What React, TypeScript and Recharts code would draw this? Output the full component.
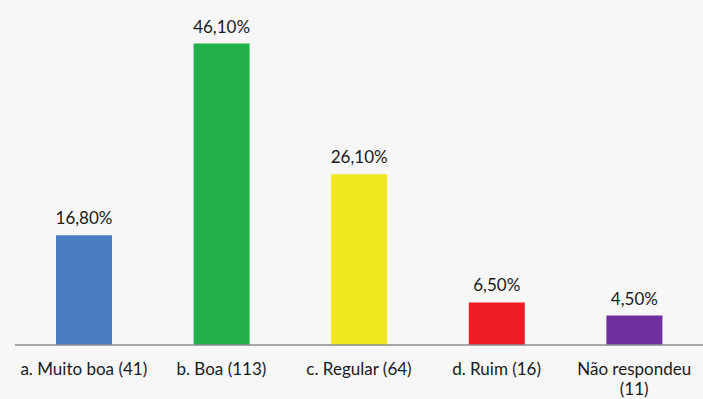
import { BarChart, Bar, XAxis, YAxis, Cell, LabelList } from 'recharts'

const categories = ['a. Muito boa (41)', 'b. Boa (113)', 'c. Regular (64)', 'd. Ruim (16)', 'Não respondeu\n(11)']
const percentages = [16.8, 46.1, 26.1, 6.5, 4.5]
const barColors = ['#4a7dbf', '#22b04c', '#f0e81c', '#ed1c24', '#6f2f9f']

const data = categories.map((name, i) => ({ name, value: percentages[i] }))

const FONT = 'Lato, "Open Sans", sans-serif'

const formatPercent = (v: number) => `${v.toFixed(2).replace('.', ',')}%`

// category labels can break onto a second line with '\n'
const CategoryTick = (props: any) => {
  const { x, y, payload } = props
  const lines = String(payload.value).split('\n')
  return (
    <text x={x} y={y} textAnchor="middle" fill="#1a1a1a" fontSize={17} fontFamily={FONT}>
      {lines.map((line, i) => (
        <tspan key={i} x={x} dy={i === 0 ? 22 : 20}>
          {line}
        </tspan>
      ))}
    </text>
  )
}

export default function App() {
  return (
    <div style={{ position: 'fixed', top: 0, left: 0, width: 703, height: 399, background: '#f7f7f7' }}>
      <BarChart
        width={703}
        height={399}
        data={data}
        margin={{ top: 18, right: 0, bottom: 24, left: 15 }}
        barCategoryGap={41}
      >
        <XAxis
          dataKey="name"
          tickLine={false}
          axisLine={{ stroke: '#8c8c8c', strokeWidth: 1.5 }}
          tick={<CategoryTick />}
          interval={0}
        />
        <YAxis hide domain={[0, 50]} />
        <Bar dataKey="value" isAnimationActive={false}>
          {data.map((entry, i) => (
            <Cell key={entry.name} fill={barColors[i]} />
          ))}
          <LabelList
            dataKey="value"
            position="top"
            offset={11}
            formatter={(v: any) => formatPercent(Number(v))}
            fill="#1a1a1a"
            fontSize={17}
            fontFamily={FONT}
          />
        </Bar>
      </BarChart>
    </div>
  )
}
